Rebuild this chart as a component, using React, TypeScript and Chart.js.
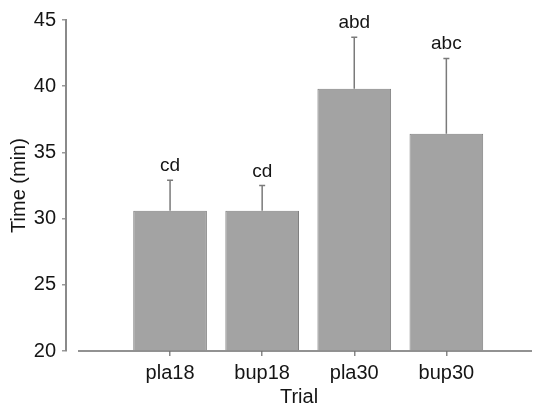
import React, { useEffect, useRef } from "react";
import { Chart, registerables } from "chart.js";

Chart.register(...registerables);

const trials = ["pla18", "bup18", "pla30", "bup30"];
const means = [30.6, 30.6, 39.8, 36.4];
const errTops = [32.9, 32.5, 43.7, 42.1];
const sigLabels = ["cd", "cd", "abd", "abc"];
const yTicks = [20, 25, 30, 35, 40, 45];

const FONT = "'Liberation Sans', Arial, sans-serif";
const TXT = "#151515";

const extrasPlugin = {
  id: "extras",
  afterDatasetsDraw(chart: any) {
    const ctx = chart.ctx;
    const x = chart.scales.x;
    const y = chart.scales.y;
    const area = chart.chartArea;
    ctx.save();
    // x axis line (offset from y axis)
    ctx.strokeStyle = "#6e6e6e";
    ctx.lineWidth = 1.5;
    ctx.beginPath();
    ctx.moveTo(x.getPixelForValue(-1), y.getPixelForValue(20));
    ctx.lineTo(area.right, y.getPixelForValue(20));
    ctx.stroke();
    // error bars + labels
    for (let i = 0; i < trials.length; i++) {
      const cx = x.getPixelForValue(i);
      const yt = y.getPixelForValue(means[i]);
      const ye = y.getPixelForValue(errTops[i]);
      ctx.strokeStyle = "#7a7a7a";
      ctx.lineWidth = 1.5;
      ctx.beginPath();
      ctx.moveTo(cx, yt);
      ctx.lineTo(cx, ye);
      ctx.moveTo(cx - 3, ye);
      ctx.lineTo(cx + 3, ye);
      ctx.stroke();
      ctx.fillStyle = TXT;
      ctx.font = `19px ${FONT}`;
      ctx.textAlign = "center";
      ctx.textBaseline = "alphabetic";
      ctx.fillText(sigLabels[i], cx, ye - 9);
    }
    ctx.restore();
  },
};

export default function App() {
  const ref = useRef<HTMLCanvasElement>(null);
  useEffect(() => {
    document.body.style.margin = "0";
    const chart = new Chart(ref.current!, {
      type: "bar",
      data: {
        datasets: [
          {
            data: trials.map((_, i) => ({ x: i, y: means[i] })),
            backgroundColor: "#a3a3a3",
            borderColor: "#808080",
            borderWidth: 1,
            base: 20,
            barPercentage: 0.8,
            categoryPercentage: 1,
          } as any,
        ],
      },
      options: {
        animation: false,
        responsive: false,
        layout: { padding: { top: 20, right: 4, left: 0, bottom: 0 } },
        plugins: { legend: { display: false }, tooltip: { enabled: false } },
        scales: {
          x: {
            type: "linear",
            min: -1.13,
            max: 3.93,
            offset: false,
            afterBuildTicks: (s: any) => {
              s.ticks = trials.map((_, i) => ({ value: i }));
            },
            afterFit: (s: any) => {
              s.height = 55;
            },
            ticks: {
              callback: (v: any) => trials[v] ?? "",
              color: TXT,
              font: { family: FONT, size: 20 },
              padding: 5,
              maxRotation: 0,
              autoSkip: false,
            },
            grid: {
              offset: false,
              drawOnChartArea: false,
              drawTicks: true,
              tickLength: 5,
              color: "#888",
              lineWidth: 1.5,
            },
            border: { display: false },
            title: {
              display: true,
              text: "Trial",
              color: TXT,
              font: { family: FONT, size: 20 },
              padding: { top: 0, bottom: -3 },
            },
          } as any,
          y: {
            min: 20,
            max: 45,
            afterBuildTicks: (s: any) => {
              s.ticks = yTicks.map((v) => ({ value: v }));
            },
            afterFit: (s: any) => {
              s.width = 66;
            },
            ticks: {
              color: TXT,
              font: { family: FONT, size: 20 },
              padding: 6,
            },
            grid: {
              drawOnChartArea: false,
              drawTicks: true,
              tickLength: 4,
              color: "#999",
              lineWidth: 1.5,
            },
            border: { display: true, color: "#8a8a8a", width: 2 },
            title: {
              display: true,
              text: "Time (min)",
              color: TXT,
              font: { family: FONT, size: 20 },
              padding: { top: 7, bottom: 0 },
            },
          } as any,
        },
      },
      plugins: [extrasPlugin],
    });
    return () => chart.destroy();
  }, []);
  return <canvas ref={ref} width={536} height={406} style={{ display: "block" }} />;
}
